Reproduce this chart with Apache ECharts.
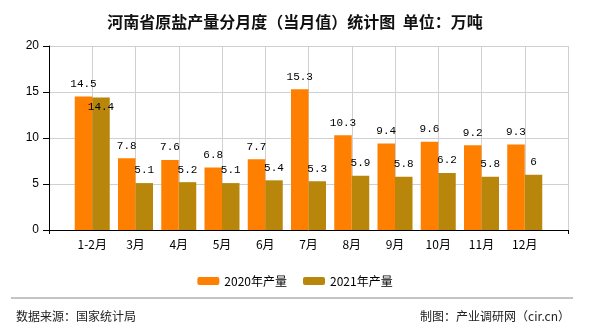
<!DOCTYPE html>
<html>
<head>
<meta charset="utf-8">
<script src="https://cdn.jsdelivr.net/npm/echarts@6/dist/echarts.min.js"></script>
<style>html,body{margin:0;padding:0;background:#fff}#c{width:590px;height:330px}</style>
</head>
<body>
<div id="c"></div>
<script>
const categories = ['1-2月','3月','4月','5月','6月','7月','8月','9月','10月','11月','12月'];
const values2020 = [14.5,7.8,7.6,6.8,7.7,15.3,10.3,9.4,9.6,9.2,9.3];
const values2021 = [14.4,5.1,5.2,5.1,5.4,5.3,5.9,5.8,6.2,5.8,6];
const seriesNames = ['2020年产量','2021年产量'];
const yTicks = [0,5,10,15,20];

const cats = [''].concat(categories, ['']);
function pad(arr){ return [null].concat(arr, [null]); }
const d2021 = pad(values2021).map((v,i)=> i===1 ? {value:v, label:{offset:[0,22]}} : v);

const chart = echarts.init(document.getElementById('c'));
const labelFont = {fontFamily:'Liberation Mono, monospace', fontSize:11, color:'#000'};
chart.setOption({
  animation:false,
  title:[
    {text:'河南省原盐产量分月度（当月值）统计图  单位：万吨', left:'center', top:9,
     textStyle:{fontSize:16, fontWeight:'bold', color:'#111', fontFamily:'Noto Sans CJK SC'}},
    {text:'数据来源：国家统计局', left:11, top:305, textStyle:{fontSize:12, fontWeight:'normal', color:'#222', fontFamily:'Noto Sans CJK SC'}},
    {text:'制图：产业调研网（cir.cn）', right:15, top:305, textStyle:{fontSize:12, fontWeight:'normal', color:'#222', fontFamily:'Noto Sans CJK SC'}}
  ],
  graphic:[{type:'line', shape:{x1:11,y1:298,x2:573,y2:298}, style:{stroke:'#888', lineWidth:1}}],
  legend:{left:'center', top:270, itemWidth:22, itemHeight:8, itemGap:16,
    textStyle:{fontSize:12, color:'#000', fontFamily:'Noto Sans CJK SC'}, data:seriesNames},
  grid:{left:49, right:22, top:46, bottom:100, containLabel:false},
  xAxis:{type:'category', data:cats, boundaryGap:false,
    axisLine:{lineStyle:{color:'#000'}},
    axisTick:{show:true, length:4, interval:(i)=> i===0 || i===cats.length-1},
    axisLabel:{interval:0, fontSize:12, color:'#000', margin:8, fontFamily:'Noto Sans CJK SC'},
    splitLine:{show:true, interval:0, lineStyle:{color:'#d0d0d0'}}},
  yAxis:{type:'value', min:yTicks[0], max:yTicks[yTicks.length-1], interval:5,
    axisLine:{show:true, lineStyle:{color:'#000'}},
    axisTick:{show:true, length:6},
    axisLabel:{fontSize:12, color:'#000', margin:10, fontFamily:'Liberation Sans'},
    splitLine:{lineStyle:{color:'#d0d0d0'}}},
  series:[
    {name:seriesNames[0], type:'bar', data:pad(values2020), barWidth:17.5, barGap:'0%',
     itemStyle:{color:'#FF8000'},
     label:{show:true, position:'top', distance:7, ...labelFont}},
    {name:seriesNames[1], type:'bar', data:d2021, barWidth:17.5,
     itemStyle:{color:'#B8860B'},
     label:{show:true, position:'top', distance:7, ...labelFont}}
  ]
});
</script>
</body>
</html>
